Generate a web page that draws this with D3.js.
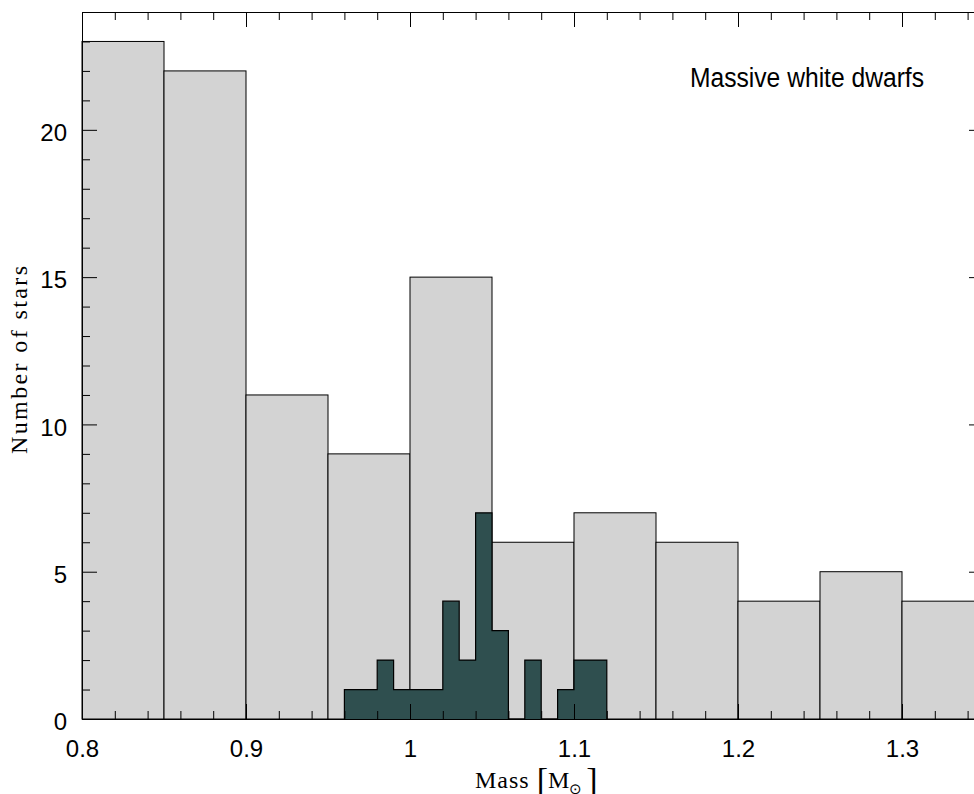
<!DOCTYPE html>
<html>
<head>
<meta charset="utf-8">
<script src="https://cdn.jsdelivr.net/npm/d3@7"></script>
<style>
  body { margin: 0; background: #fff; }
  svg text { fill: #000; }
</style>
</head>
<body>
<svg id="canvas"></svg>
<script>
// all massive white dwarfs, bins of 0.05 Msun
const binStarts = [0.80, 0.85, 0.90, 0.95, 1.00, 1.05, 1.10, 1.15, 1.20, 1.25, 1.30];
const binCounts = [23, 22, 11, 9, 15, 6, 7, 6, 4, 5, 4];
const binWidth = 0.05;

// sub-sample, bins of 0.01 Msun
const subStarts = [0.96, 0.97, 0.98, 0.99, 1.00, 1.01, 1.02, 1.03, 1.04, 1.05, 1.06, 1.07, 1.08, 1.09, 1.10, 1.11];
const subCounts = [1, 1, 2, 1, 1, 1, 4, 2, 7, 3, 0, 2, 0, 1, 2, 2];
const subWidth = 0.01;

const xMajor = [0.8, 0.9, 1.0, 1.1, 1.2, 1.3];
const xLabels = ['0.8', '0.9', '1', '1.1', '1.2', '1.3'];
const yMajor = [0, 5, 10, 15, 20];

const width = 974;
const height = 794;
const plotLeft = 82, plotRight = 984, plotTop = 12, plotBottom = 719;

const svg = d3.select('#canvas').attr('width', width).attr('height', height);

const xScale = d3.scaleLinear().domain([0.8, 1.35]).range([plotLeft, plotRight]);
const yScale = d3.scaleLinear().domain([0, 24]).range([plotBottom, plotTop]);

// grey histogram
svg.selectAll('rect.all')
    .data(binStarts)
    .enter()
    .append('rect')
    .attr('class', 'all')
    .attr('x', (d) => xScale(d))
    .attr('y', (d, i) => yScale(binCounts[i]))
    .attr('width', (d) => xScale(d + binWidth) - xScale(d))
    .attr('height', (d, i) => yScale(0) - yScale(binCounts[i]))
    .attr('fill', '#d3d3d3')
    .attr('stroke', '#000')
    .attr('stroke-width', 1);

// dark step histogram
const stepPts = [[subStarts[0], 0]];
subStarts.forEach((s, i) => {
    stepPts.push([s, subCounts[i]]);
    stepPts.push([s + subWidth, subCounts[i]]);
});
stepPts.push([subStarts[subStarts.length - 1] + subWidth, 0]);

const line = d3.line()
    .x((p) => xScale(p[0]))
    .y((p) => yScale(p[1]));

svg.append('path')
    .datum(stepPts)
    .attr('d', line)
    .attr('fill', '#2f4f4f')
    .attr('stroke', '#000')
    .attr('stroke-width', 1.2);

// axes
const xMinor = d3.range(0.82, 1.351, 0.02).filter((v) => Math.abs(v * 10 - Math.round(v * 10)) > 1e-6);
const yMinor = d3.range(0, 24.01, 1).filter((v) => v % 5 !== 0);

const fmtX = (d) => xLabels[xMajor.findIndex((m) => Math.abs(m - d) < 1e-6)];

svg.append('g')
    .attr('transform', 'translate(0,' + plotBottom + ')')
    .call(d3.axisBottom(xScale).tickValues(xMajor).tickFormat(fmtX).tickSizeInner(-15).tickSizeOuter(0).tickPadding(21))
    .call((g) => g.append('g').call(d3.axisBottom(xScale).tickValues(xMinor).tickFormat('').tickSizeInner(-8).tickSizeOuter(0)).select('.domain').remove());

svg.append('g')
    .attr('transform', 'translate(0,' + plotTop + ')')
    .call(d3.axisTop(xScale).tickValues(xMajor).tickFormat('').tickSizeInner(-15).tickSizeOuter(0))
    .call((g) => g.append('g').call(d3.axisTop(xScale).tickValues(xMinor).tickFormat('').tickSizeInner(-8).tickSizeOuter(0)).select('.domain').remove());

const yAxisG = svg.append('g')
    .attr('transform', 'translate(' + plotLeft + ',0)')
    .call(d3.axisLeft(yScale).tickValues(yMajor).tickSizeInner(-15).tickSizeOuter(0).tickPadding(15))
    .call((g) => g.append('g').call(d3.axisLeft(yScale).tickValues(yMinor).tickFormat('').tickSizeInner(-8).tickSizeOuter(0)).select('.domain').remove());

svg.append('g')
    .attr('transform', 'translate(' + plotRight + ',0)')
    .call(d3.axisRight(yScale).tickValues(yMajor).tickFormat('').tickSizeInner(-15).tickSizeOuter(0))
    .call((g) => g.append('g').call(d3.axisRight(yScale).tickValues(yMinor).tickFormat('').tickSizeInner(-8).tickSizeOuter(0)).select('.domain').remove());

svg.selectAll('.tick text')
    .attr('font-family', 'Liberation Sans, Arial, sans-serif')
    .attr('font-size', 24)
    .attr('fill', '#000');
yAxisG.selectAll('.tick text').attr('dy', '0.45em');
svg.selectAll('.domain, .tick line').attr('stroke', '#000');

// labels
svg.append('text')
    .attr('transform', 'translate(690,87) scale(0.88,1)')
    .attr('font-family', 'Liberation Sans, Arial, sans-serif')
    .attr('font-size', 28)
    .text('Massive white dwarfs');

svg.append('text')
    .attr('transform', 'translate(27,360) rotate(-90)')
    .attr('text-anchor', 'middle')
    .attr('font-family', 'Liberation Serif, serif')
    .attr('font-size', 24)
    .attr('textLength', 188)
    .attr('lengthAdjust', 'spacing')
    .text('Number of stars');

const xt = svg.append('text')
    .attr('x', 475)
    .attr('y', 788)
    .attr('font-family', 'Liberation Serif, serif')
    .attr('font-size', 24);
xt.append('tspan').attr('letter-spacing', 1).text('Mass ');
xt.append('tspan').attr('font-size', 34).attr('dy', 3).text('[');
xt.append('tspan').attr('dy', -3).text('M');
xt.append('tspan').attr('font-size', 15).attr('dy', 6).text('\u2299');
xt.append('tspan').attr('font-size', 34).attr('dx', 4).attr('dy', -3).text(']');
</script>
</body>
</html>
